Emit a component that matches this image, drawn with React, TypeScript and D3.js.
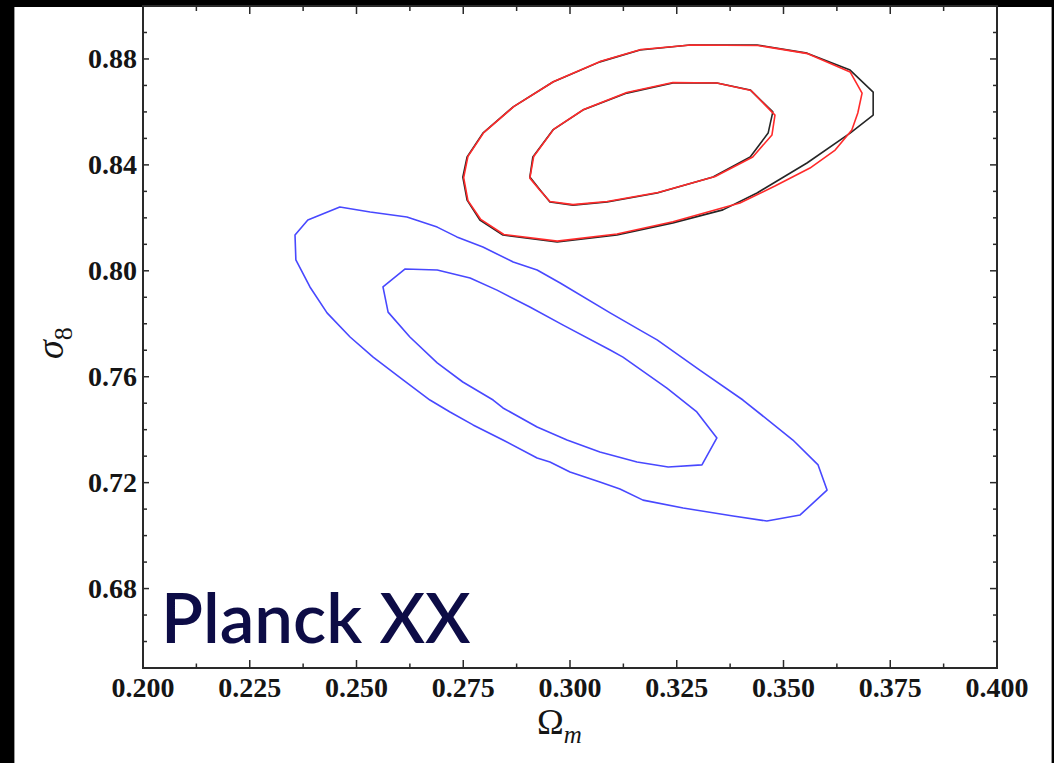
import React from 'react';
import * as d3 from 'd3';

const W = 1054;
const H = 763;

// axis domains and ticks
const xDomain: [number, number] = [0.2, 0.4];
const yDomain: [number, number] = [0.65, 0.9];
const xMajorTicks = [0.2, 0.225, 0.25, 0.275, 0.3, 0.325, 0.35, 0.375, 0.4];
const xTickLabels = ['0.200', '0.225', '0.250', '0.275', '0.300', '0.325', '0.350', '0.375', '0.400'];
const yMajorTicks = [0.68, 0.72, 0.76, 0.8, 0.84, 0.88];
const yTickLabels = ['0.68', '0.72', '0.76', '0.80', '0.84', '0.88'];
const xMinorStep = 0.0125;
const yMinorStep = 0.01;

// contours: [Omega_m, sigma_8]
const blueOuter: [number, number][] = [
  [0.2358, 0.8041], [0.2356, 0.8135], [0.2386, 0.8192], [0.2461, 0.8241], [0.2532, 0.8222],
  [0.2618, 0.8203], [0.2689, 0.8165], [0.2735, 0.8128], [0.2796, 0.809], [0.2867, 0.8033],
  [0.2923, 0.8003], [0.2977, 0.7954], [0.3094, 0.7841], [0.3164, 0.7776], [0.3204, 0.7739],
  [0.3304, 0.7625], [0.3405, 0.7512], [0.3522, 0.7361], [0.3581, 0.7267], [0.3602, 0.7172],
  [0.3539, 0.7078], [0.3461, 0.7055], [0.3382, 0.7074], [0.3265, 0.7104], [0.3171, 0.7134],
  [0.3117, 0.7176], [0.307, 0.7202], [0.3, 0.724], [0.2953, 0.7278], [0.2923, 0.7293],
  [0.2843, 0.7361], [0.2773, 0.7418], [0.2719, 0.7467], [0.2672, 0.7512], [0.2609, 0.7588],
  [0.2539, 0.7674], [0.2485, 0.775], [0.2431, 0.7841], [0.2391, 0.7939],
];
const blueInner: [number, number][] = [
  [0.2562, 0.7939], [0.2614, 0.8007], [0.2689, 0.8003], [0.2766, 0.7973], [0.2829, 0.7927],
  [0.2906, 0.7863], [0.2984, 0.7795], [0.3094, 0.7701], [0.3124, 0.7674], [0.3227, 0.7557],
  [0.3297, 0.7467], [0.3344, 0.7369], [0.3309, 0.7267], [0.323, 0.7259], [0.3157, 0.7278],
  [0.307, 0.7316], [0.2993, 0.7361], [0.2923, 0.741], [0.2843, 0.7482], [0.282, 0.7512],
  [0.2749, 0.758], [0.2689, 0.7652], [0.2625, 0.775], [0.2574, 0.7844],
];
const blackOuter: [number, number][] = [
  [0.2749, 0.8354], [0.2759, 0.843], [0.2796, 0.852], [0.2867, 0.8619], [0.296, 0.8713],
  [0.307, 0.8789], [0.3164, 0.8834], [0.3281, 0.8853], [0.3438, 0.8853], [0.3555, 0.8822],
  [0.3656, 0.8758], [0.371, 0.8675], [0.371, 0.8588], [0.3656, 0.852], [0.3555, 0.8407],
  [0.3438, 0.8294], [0.3358, 0.823], [0.3241, 0.8181], [0.311, 0.8135], [0.297, 0.8109],
  [0.2843, 0.8135], [0.2789, 0.8192], [0.2759, 0.8267],
];
const blackInner: [number, number][] = [
  [0.2906, 0.8354], [0.2913, 0.843], [0.296, 0.8532], [0.303, 0.8607], [0.3133, 0.8671],
  [0.3241, 0.8709], [0.3344, 0.8709], [0.3422, 0.8683], [0.3475, 0.86], [0.3464, 0.852],
  [0.3422, 0.843], [0.3335, 0.8354], [0.3204, 0.8294], [0.3087, 0.826], [0.3007, 0.8248],
  [0.2953, 0.826], [0.293, 0.8305],
];
const redOuter: [number, number][] = [
  [0.2751, 0.8352], [0.2761, 0.8432], [0.2798, 0.8522], [0.2869, 0.8621], [0.2962, 0.8715],
  [0.3072, 0.8791], [0.3166, 0.8836], [0.3283, 0.8853], [0.344, 0.8851], [0.3557, 0.882],
  [0.3656, 0.8751], [0.3684, 0.8671], [0.3674, 0.8596], [0.366, 0.8532], [0.3621, 0.8456],
  [0.3562, 0.8388], [0.348, 0.832], [0.3398, 0.8256], [0.3241, 0.8185], [0.311, 0.8139],
  [0.297, 0.8112], [0.2845, 0.8137], [0.2791, 0.8194], [0.2761, 0.8265],
];
const redInner: [number, number][] = [
  [0.2906, 0.835], [0.2915, 0.8432], [0.2962, 0.8535], [0.3032, 0.8609], [0.3133, 0.8673],
  [0.3241, 0.8711], [0.3344, 0.8709], [0.3424, 0.8681], [0.348, 0.8588], [0.3473, 0.8513],
  [0.3428, 0.843], [0.334, 0.8356], [0.3206, 0.8296], [0.3087, 0.8262], [0.3007, 0.825],
  [0.2953, 0.8262], [0.293, 0.8303],
];

const contourSeries = [
  { name: 'blueOuter', points: blueOuter, color: '#4848ff' },
  { name: 'blueInner', points: blueInner, color: '#4848ff' },
  { name: 'blackOuter', points: blackOuter, color: '#262626' },
  { name: 'blackInner', points: blackInner, color: '#262626' },
  { name: 'redOuter', points: redOuter, color: '#ff2a2a' },
  { name: 'redInner', points: redInner, color: '#ff2a2a' },
];

const annotation = 'Planck XX';

export default function App() {
  const left = 143, right = 997, top = 6, bottom = 668;
  const x = d3.scaleLinear().domain(xDomain).range([left, right]);
  const y = d3.scaleLinear().domain(yDomain).range([bottom, top]);
  const line = d3
    .line<[number, number]>()
    .x((d) => x(d[0]))
    .y((d) => y(d[1]))
    .curve(d3.curveLinearClosed);

  const xMinor = d3.range(xDomain[0], xDomain[1] + 1e-9, xMinorStep).filter(
    (v) => !xMajorTicks.some((m) => Math.abs(m - v) < 1e-6)
  );
  const yMinor = d3.range(yDomain[0], yDomain[1] + 1e-9, yMinorStep).filter(
    (v) => !yMajorTicks.some((m) => Math.abs(m - v) < 1e-6)
  );

  const tickFont = '"Liberation Serif", "Times New Roman", serif';
  const axisColor = '#2a2a2a';

  return (
    <svg
      width={W}
      height={H}
      viewBox={`0 0 ${W} ${H}`}
      style={{ position: 'absolute', left: 0, top: 0, display: 'block' }}
    >
      <rect x={0} y={0} width={W} height={H} fill="#000" />
      <rect x={14} y={7} width={1037} height={H - 7} fill="#fff" />
      <line x1={14.5} y1={7} x2={14.5} y2={H} stroke="#9a9a9a" strokeWidth={1} />
      <line x1={1051.5} y1={7} x2={1051.5} y2={H} stroke="#9a9a9a" strokeWidth={1} />

      {/* contours */}
      {contourSeries.map((s) => (
        <path key={s.name} d={line(s.points) || ''} fill="none" stroke={s.color} strokeWidth={1.6} strokeLinejoin="round" />
      ))}

      {/* spines */}
      <g stroke={axisColor} strokeWidth={2} fill="none">
        <line x1={left} y1={top} x2={left} y2={bottom + 1} />
        <line x1={right} y1={top} x2={right} y2={bottom + 1} />
        <line x1={left - 1} y1={bottom} x2={right + 1} y2={bottom} />
        <line x1={left - 1} y1={top} x2={right + 1} y2={top} />
      </g>

      {/* ticks */}
      <g stroke={axisColor} strokeWidth={1.5}>
        {xMajorTicks.map((t) => (
          <g key={'xM' + t}>
            <line x1={x(t)} x2={x(t)} y1={bottom} y2={bottom - 8} />
            <line x1={x(t)} x2={x(t)} y1={top} y2={top + 8} />
          </g>
        ))}
        {xMinor.map((t) => (
          <g key={'xm' + t}>
            <line x1={x(t)} x2={x(t)} y1={bottom} y2={bottom - 4.5} />
            <line x1={x(t)} x2={x(t)} y1={top} y2={top + 5} />
          </g>
        ))}
        {yMajorTicks.map((t) => (
          <g key={'yM' + t}>
            <line x1={left} x2={left + 6} y1={y(t)} y2={y(t)} />
            <line x1={right} x2={right - 7} y1={y(t)} y2={y(t)} />
          </g>
        ))}
        {yMinor.map((t) => (
          <g key={'ym' + t}>
            <line x1={left} x2={left + 4} y1={y(t)} y2={y(t)} />
            <line x1={right} x2={right - 4} y1={y(t)} y2={y(t)} />
          </g>
        ))}
      </g>

      {/* tick labels */}
      <g fontFamily={tickFont} fontWeight="bold" fontSize={28} fill="#151515">
        {xMajorTicks.map((t, i) => (
          <text key={'xl' + t} x={x(t)} y={697} textAnchor="middle">
            {xTickLabels[i]}
          </text>
        ))}
        {yMajorTicks.map((t, i) => (
          <text key={'yl' + t} x={left - 6} y={y(t)} dy="0.34em" textAnchor="end">
            {yTickLabels[i]}
          </text>
        ))}
      </g>

      {/* axis labels */}
      <text x={537} y={734} fontFamily={tickFont} fontSize={36} fill="#151515">
        Ω
        <tspan fontStyle="italic" fontSize={25} dy={9}>m</tspan>
      </text>
      <text transform="translate(63,359) rotate(-90)" fontFamily={tickFont} fontSize={38} fill="#151515">
        <tspan fontStyle="italic">σ</tspan>
        <tspan fontSize={26} dy={9}>8</tspan>
      </text>

      {/* annotation */}
      <text x={161} y={643} fontFamily="Lato, 'Open Sans', sans-serif" fontWeight={600} fontSize={69} fill="#0d0c46">
        {annotation}
      </text>
    </svg>
  );
}
